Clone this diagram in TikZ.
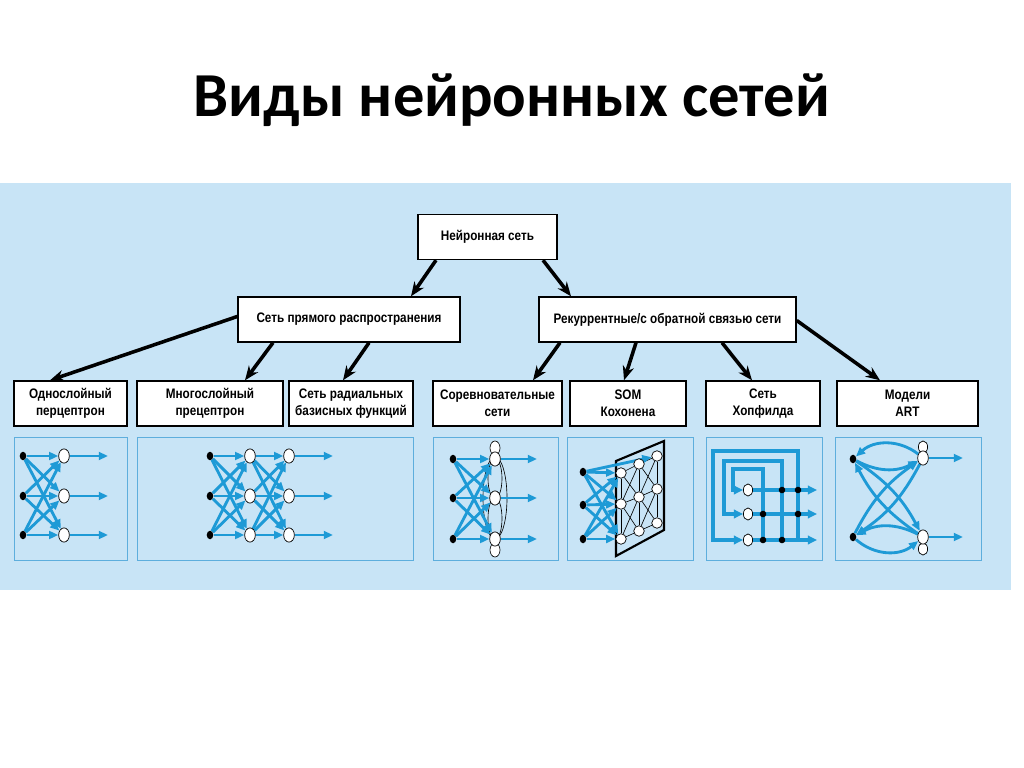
\documentclass[tikz,border=0pt]{standalone}
\usepackage{fontspec}
\setmainfont{Carlito}
\newfontfamily\boxfont[FakeStretch=0.85]{Liberation Sans}
\usetikzlibrary{arrows.meta,shapes.geometric}
\definecolor{bgblue}{HTML}{C8E4F6}
\definecolor{panelline}{HTML}{5DAEDD}
\definecolor{netblue}{HTML}{1E9AD6}
\def\pxu{0.703125pt}
\pgfdeclarelayer{back}
\pgfdeclarelayer{mid}
\pgfsetlayers{back,mid,main}
\tikzset{
  box/.style={draw=black, fill=white, line width=1pt, rectangle, inner sep=0pt, align=center,
     font=\boxfont\bfseries\fontsize{9.7}{12}\selectfont, minimum height=45*\pxu},
  panel/.style={draw=panelline, line width=0.7pt, fill=bgblue},
  bigarrow/.style={line width=2.5pt, -{Stealth[length=10pt,width=8pt]}},
  barrow/.style={draw=netblue, line width=2pt, -{Triangle[length=6.5pt,width=5.5pt]}},
  hline/.style={draw=netblue, line width=2.2pt},
  harrow/.style={hline, -{Triangle[length=6.5pt,width=6pt]}},
  indot/.style={ellipse, fill=black, inner sep=0pt, minimum width=4.6pt, minimum height=6pt},
  neuron/.style={ellipse, draw=black, fill=white, line width=0.5pt, inner sep=0pt, minimum width=7.5pt, minimum height=10pt},
  sneuron/.style={ellipse, draw=black, fill=white, line width=0.5pt, inner sep=0pt, minimum width=6.5pt, minimum height=8.5pt},
  somnode/.style={circle, draw=black, fill=white, line width=0.5pt, inner sep=0pt, minimum size=7.4pt},
  jdot/.style={circle, fill=black, inner sep=0pt, minimum size=4.6pt},
  lattice/.style={draw=black, line width=0.45pt},
}
\begin{document}
\begin{tikzpicture}[x=0.703125pt,y=-0.703125pt]
\useasboundingbox (0,0) rectangle (1024,768);
\begin{pgfonlayer}{back}
\fill[white] (0,0) rectangle (1024,768);
\fill[bgblue] (0,183) rectangle (1011,590);
\draw[panel] (14,437) rectangle (127,560);
\draw[panel] (137,437) rectangle (413,560);
\draw[panel] (433,437) rectangle (558,560);
\draw[panel] (567,437) rectangle (693,560);
\draw[panel] (706,437) rectangle (822,560);
\draw[panel] (835,437) rectangle (981,560);
\end{pgfonlayer}

% title
\node[font=\bfseries\fontsize{44}{53}\selectfont, anchor=base] (title) at (512,117) {Виды нейронных сетей};

% hierarchy boxes
\node[box, minimum width=139*\pxu] (n0) at (487.5,237) {Нейронная сеть};
\node[box, minimum width=222*\pxu] (ff) at (349,319.5) {Сеть прямого распространения};
\node[box, minimum width=257*\pxu] (rec) at (667.5,319.5) {Рекуррентные/с обратной связью сети};
\node[box, minimum width=113*\pxu] (b1) at (70.5,403.5) {Однослойный\\перцептрон};
\node[box, minimum width=146*\pxu] (b2) at (210,403.5) {Многослойный\\прецептрон};
\node[box, minimum width=124*\pxu] (b3) at (351,403.5) {Сеть радиальных\\базисных функций};
\node[box, minimum width=129*\pxu] (b4) at (497.5,403.5) {Соревновательные\\сети};
\node[box, minimum width=116*\pxu] (b5) at (628,403.5) {SOM\\Кохонена};
\node[box, minimum width=114*\pxu] (b6) at (763,403.5) {Сеть\\Хопфилда};
\node[box, minimum width=141*\pxu] (b7) at (907.5,403.5) {Модели\\ART};

\draw[bigarrow] ([xshift=-51.5*\pxu]n0.south) -- ([xshift=62*\pxu]ff.north);
\draw[bigarrow] ([xshift=55.5*\pxu]n0.south) -- ([xshift=-96.5*\pxu]rec.north);
\draw[bigarrow] ([yshift=3*\pxu]ff.west) -- ([xshift=-20.5*\pxu]b1.north);
\draw[bigarrow] ([xshift=-76*\pxu]ff.south) -- ([xshift=35*\pxu]b2.north);
\draw[bigarrow] ([xshift=20*\pxu]ff.south) -- ([xshift=-8*\pxu]b3.north);
\draw[bigarrow] ([xshift=-107.5*\pxu]rec.south) -- ([xshift=35.5*\pxu]b4.north);
\draw[bigarrow] ([xshift=-31.5*\pxu]rec.south) -- ([xshift=-4*\pxu]b5.north);
\draw[bigarrow] ([xshift=54.5*\pxu]rec.south) -- ([xshift=-11*\pxu]b6.north);
\draw[bigarrow] ([yshift=-1*\pxu]rec.east) -- ([xshift=-27.5*\pxu]b7.north);

% ---- panel 1: single layer perceptron
\node[indot] (a1) at (23,456) {};
\node[indot] (a2) at (23,496) {};
\node[indot] (a3) at (23,535) {};
\node[neuron] (a4) at (64,456) {};
\node[neuron] (a5) at (64,496) {};
\node[neuron] (a6) at (64,535) {};
\coordinate (a7) at (108,456);
\coordinate (a8) at (108,496);
\coordinate (a9) at (108,535);
\begin{pgfonlayer}{mid}
\foreach \i in {a1,a2,a3} \foreach \j in {a4,a5,a6} \draw[barrow] (\i) -- (\j);
\draw[barrow] (a4) -- (a7);
\draw[barrow] (a5) -- (a8);
\draw[barrow] (a6) -- (a9);
\end{pgfonlayer}

% ---- panel 2: multilayer perceptron
\node[indot] (m1) at (210,456) {};
\node[indot] (m2) at (210,496) {};
\node[indot] (m3) at (210,535) {};
\node[neuron] (m4) at (250,456) {};
\node[neuron] (m5) at (250,496) {};
\node[neuron] (m6) at (250,535) {};
\node[neuron] (m7) at (289,456) {};
\node[neuron] (m8) at (289,496) {};
\node[neuron] (m9) at (289,535) {};
\coordinate (mo1) at (333,456);
\coordinate (mo2) at (333,496);
\coordinate (mo3) at (333,535);
\begin{pgfonlayer}{mid}
\foreach \i in {m1,m2,m3} \foreach \j in {m4,m5,m6} \draw[barrow] (\i) -- (\j);
\foreach \i in {m4,m5,m6} \foreach \j in {m7,m8,m9} \draw[barrow] (\i) -- (\j);
\draw[barrow] (m7) -- (mo1);
\draw[barrow] (m8) -- (mo2);
\draw[barrow] (m9) -- (mo3);
\end{pgfonlayer}

% ---- panel 3: competitive network
\node[indot] (c1) at (453,459) {};
\node[indot] (c2) at (453,498) {};
\node[indot] (c3) at (453,539) {};
\node[neuron] (c4) at (495,459) {};
\node[neuron] (c5) at (495,498) {};
\node[neuron] (c6) at (495,539) {};
\coordinate (co1) at (537,459);
\coordinate (co2) at (537,498);
\coordinate (co3) at (537,539);
\begin{pgfonlayer}{mid}
\draw[lattice] (c5.center) ellipse [x radius=12, y radius=41];
\draw[lattice] (495,478.5) ellipse [x radius=7, y radius=20];
\draw[lattice] (495,518.5) ellipse [x radius=7, y radius=21];
\draw[lattice, fill=white] (495,448) ellipse [x radius=5, y radius=7];
\draw[lattice, fill=white] (495,550) ellipse [x radius=5, y radius=7];
\foreach \i in {c1,c2,c3} \foreach \j in {c4,c5,c6} \draw[barrow] (\i) -- (\j);
\draw[barrow] (c4) -- (co1);
\draw[barrow] (c5) -- (co2);
\draw[barrow] (c6) -- (co3);
\end{pgfonlayer}

% ---- panel 4: SOM Kohonen
\node[indot] (s1) at (583,472) {};
\node[indot] (s2) at (583,505) {};
\node[indot] (s3) at (583,539) {};
\node[somnode] (k11) at (621,473) {};
\node[somnode] (k12) at (639,464) {};
\node[somnode] (k13) at (657,456) {};
\node[somnode] (k21) at (621,504) {};
\node[somnode] (k22) at (639,497) {};
\node[somnode] (k23) at (657,489) {};
\node[somnode] (k31) at (621,539) {};
\node[somnode] (k32) at (639,531) {};
\node[somnode] (k33) at (657,523) {};
\begin{pgfonlayer}{mid}
\draw[line width=1.5pt] (616,461) -- (664,441) -- (664,530) -- (616,556) -- cycle;
\draw[lattice] (k11) -- (k12) -- (k13);
\draw[lattice] (k21) -- (k22) -- (k23);
\draw[lattice] (k31) -- (k32) -- (k33);
\draw[lattice] (k11) -- (k21) -- (k31);
\draw[lattice] (k12) -- (k22) -- (k32);
\draw[lattice] (k13) -- (k23) -- (k33);
\draw[lattice] (k11) -- (k22) -- (k33);
\draw[lattice] (k31) -- (k22) -- (k13);
\draw[lattice] (k12) -- (k21);
\draw[lattice] (k12) -- (k23);
\draw[lattice] (k21) -- (k32);
\draw[lattice] (k32) -- (k23);
\foreach \i in {s1,s2,s3} \foreach \j in {k11,k21,k31} \draw[barrow] (\i) -- (\j);
\draw[barrow] (s1) -- (k13);
\end{pgfonlayer}

% ---- panel 6: Hopfield
\node[sneuron] (h1) at (748,490) {};
\node[sneuron] (h2) at (748,514) {};
\node[sneuron] (h3) at (748,540) {};
\coordinate (ho1) at (817,490);
\coordinate (ho2) at (817,514);
\coordinate (ho3) at (817,540);
\node[jdot] (hd1) at (782,490) {};
\node[jdot] (hd2) at (798,490) {};
\node[jdot] (hd3) at (763,514) {};
\node[jdot] (hd4) at (798,514) {};
\node[jdot] (hd5) at (763,540) {};
\node[jdot] (hd6) at (782,540) {};
\coordinate (hc1) at (763,469);
\coordinate (hc2) at (733,469);
\coordinate (hc3) at (782,461);
\coordinate (hc4) at (724,461);
\coordinate (hc5) at (798,451);
\coordinate (hc6) at (713,451);
\coordinate (hb3) at (798,540);
\begin{pgfonlayer}{mid}
\draw[harrow] (h1) -- (ho1);
\draw[harrow] (h2) -- (ho2);
\draw[harrow] (h3) -- (ho3);
\draw[harrow] (hd5.center) -- (hc1) -- (hc2) |- (h1);
\draw[harrow] (hd6.center) -- (hc3) -- (hc4) |- (h2);
\draw[harrow] (hb3) -- (hc5) -- (hc6) |- (h3);
\end{pgfonlayer}

% ---- panel 7: ART
\node[indot] (r1) at (853,459) {};
\node[indot] (r2) at (853,537) {};
\node[sneuron] (r5) at (923,447) {};
\node[sneuron] (r6) at (923,549) {};
\node[neuron] (r3) at (923,458) {};
\node[neuron] (r4) at (923,537) {};
\coordinate (ro1) at (963,458);
\coordinate (ro2) at (963,537);
\begin{pgfonlayer}{mid}
\draw[barrow] (r3) -- (ro1);
\draw[barrow] (r4) -- (ro2);
\draw[barrow] (r3) to[bend right=40] (r1);
\draw[barrow] (r1) to[bend right=28] (r3);
\draw[barrow] (r2) to[bend right=40] (r4);
\draw[barrow] (r4) to[bend right=28] (r2);
\draw[barrow] (r1) to[bend left=14] (r4);
\draw[barrow] (r4) to[bend left=14] (r1);
\draw[barrow] (r2) to[bend left=14] (r3);
\draw[barrow] (r3) to[bend left=14] (r2);
\end{pgfonlayer}
\end{tikzpicture}
\end{document}
